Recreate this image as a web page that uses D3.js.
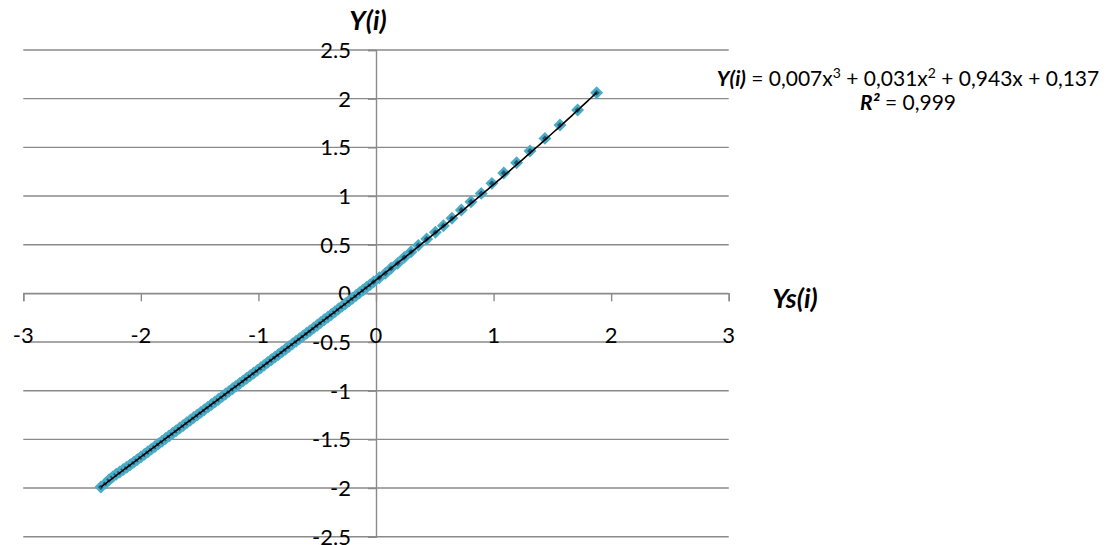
<!DOCTYPE html>
<html>
<head>
<meta charset="utf-8">
<script src="https://cdn.jsdelivr.net/npm/d3@7"></script>
<style>
  html, body { margin: 0; padding: 0; background: #fff; }
  svg { display: block; }
  text { font-family: Lato, "Open Sans", sans-serif; fill: #000; }
</style>
</head>
<body>
<svg id="chart" width="1109" height="545"></svg>
<script>
// Standard quantiles Ys(i) on the horizontal axis
const ysValues = [
  -2.34, -2.30, -2.27, -2.24, -2.21, -2.18, -2.15, -2.12, -2.09, -2.06, -2.03, -2.00,
  -1.97, -1.94, -1.91, -1.88, -1.85, -1.82, -1.79, -1.76, -1.73, -1.70,
  -1.67, -1.64, -1.61, -1.58, -1.55, -1.52, -1.49, -1.46, -1.43, -1.40,
  -1.37, -1.34, -1.31, -1.28, -1.25, -1.22, -1.19, -1.16, -1.13, -1.10,
  -1.07, -1.04, -1.01, -0.98, -0.95, -0.92, -0.89, -0.86, -0.83, -0.80,
  -0.77, -0.74, -0.71, -0.68, -0.65, -0.62, -0.59, -0.56, -0.53, -0.50,
  -0.47, -0.44, -0.41, -0.38, -0.35, -0.32, -0.29, -0.26, -0.23, -0.20,
  -0.17, -0.14, -0.11, -0.08, -0.05, -0.02,
  0.028, 0.079, 0.128, 0.184, 0.241, 0.298, 0.360, 0.431, 0.505, 0.573, 0.646,
  0.726, 0.808, 0.895, 0.986, 1.087, 1.196, 1.310, 1.437, 1.565, 1.715, 1.877
];

// Observed values Y(i) on the vertical axis
const yValues = [
  -1.990, -1.950, -1.915, -1.885, -1.858, -1.835, -1.810, -1.786, -1.760, -1.734, -1.708, -1.681,
  -1.654, -1.627, -1.600, -1.573, -1.546, -1.519, -1.492, -1.465, -1.438, -1.411,
  -1.384, -1.357, -1.330, -1.303, -1.276, -1.250, -1.223, -1.196, -1.169, -1.142,
  -1.115, -1.088, -1.061, -1.034, -1.007, -0.980, -0.953, -0.926, -0.899, -0.872,
  -0.845, -0.818, -0.791, -0.764, -0.737, -0.709, -0.682, -0.655, -0.628, -0.601,
  -0.574, -0.547, -0.519, -0.492, -0.465, -0.437, -0.410, -0.383, -0.355, -0.328,
  -0.300, -0.272, -0.245, -0.217, -0.189, -0.161, -0.134, -0.106, -0.078, -0.050,
  -0.022, 0.006, 0.034, 0.062, 0.090, 0.118,
  0.160, 0.205, 0.257, 0.308, 0.370, 0.427, 0.493, 0.558, 0.627, 0.695, 0.771,
  0.856, 0.941, 1.027, 1.130, 1.236, 1.342, 1.462, 1.592, 1.729, 1.883, 2.060
];

// Cubic trendline coefficients: a3, a2, a1, a0
const trendCoefficients = [0.007, 0.031, 0.943, 0.137];

const xTicks = [-3, -2, -1, 0, 1, 2, 3];
const yTicks = [-2.5, -2, -1.5, -1, -0.5, 0, 0.5, 1, 1.5, 2, 2.5];

const equationLabel = ["Y(i)", " = 0,007x", "3", " + 0,031x", "2", " + 0,943x + 0,137"];
const r2Label = ["R²", " = 0,999"];

const svg = d3.select("#chart");
const x = d3.scaleLinear().domain([-3, 3]).range([23.3, 728.7]);
const y = d3.scaleLinear().domain([-2.5, 2.5]).range([536.7, 50]);

const gridColor = "#8a8a8a";

// Horizontal gridlines
svg.append("g")
  .selectAll("line")
  .data(yTicks)
  .join("line")
  .attr("x1", x(-3)).attr("x2", x(3))
  .attr("y1", d => y(d)).attr("y2", d => y(d))
  .attr("stroke", gridColor).attr("stroke-width", 1.4);

// X axis crossing at y = 0, ticks pointing down
const xAxis = d3.axisBottom(x).tickValues(xTicks).tickSize(8).tickFormat("");
const gx = svg.append("g").attr("transform", `translate(0,${y(0)})`).call(xAxis);
gx.select(".domain").attr("stroke", gridColor).attr("stroke-width", 1.4);
gx.selectAll(".tick line").attr("stroke", gridColor).attr("stroke-width", 1.4);

// Y axis crossing at x = 0, ticks pointing left
const yAxis = d3.axisLeft(y).tickValues(yTicks).tickSize(8).tickFormat("");
const gy = svg.append("g").attr("transform", `translate(${x(0)},0)`).call(yAxis);
gy.select(".domain").attr("stroke", gridColor).attr("stroke-width", 1.4);
gy.selectAll(".tick line").attr("stroke", gridColor).attr("stroke-width", 1.4);

// X tick labels, placed in a row below the axis
svg.append("g")
  .selectAll("text")
  .data(xTicks)
  .join("text")
  .attr("x", d => x(d))
  .attr("y", 343)
  .attr("text-anchor", "middle")
  .attr("font-size", 22)
  .text(d => String(d));

// Y tick labels, right-aligned left of the vertical axis
svg.append("g")
  .selectAll("text")
  .data(yTicks)
  .join("text")
  .attr("x", 351)
  .attr("y", d => y(d))
  .attr("dy", "0.36em")
  .attr("text-anchor", "end")
  .attr("font-size", 22)
  .text(d => String(d));

// Data markers: rotated squares
const points = ysValues.map((v, i) => ({ xv: v, yv: yValues[i] }));
const diamond = d3.symbol().type(d3.symbolSquare).size(44);
svg.append("g")
  .selectAll("path")
  .data(points)
  .join("path")
  .attr("d", diamond)
  .attr("transform", d => `translate(${x(d.xv)},${y(d.yv)}) rotate(45)`)
  .attr("fill", "#1f5a78")
  .attr("stroke", "#4bacc6")
  .attr("stroke-width", 2.5);

// Polynomial trendline over the data range
const [a3, a2, a1, a0] = trendCoefficients;
const poly = t => a3 * t * t * t + a2 * t * t + a1 * t + a0;
const xMin = d3.min(ysValues), xMax = d3.max(ysValues);
const trend = d3.range(0, 201).map(i => {
  const t = xMin + (xMax - xMin) * i / 200;
  return [t, poly(t)];
});
svg.append("path")
  .datum(trend)
  .attr("d", d3.line().x(d => x(d[0])).y(d => y(d[1])))
  .attr("fill", "none")
  .attr("stroke", "#000")
  .attr("stroke-width", 1.6);

// Axis titles
svg.append("text")
  .attr("x", 368).attr("y", 30)
  .attr("text-anchor", "middle")
  .attr("font-size", 27).attr("font-weight", "bold").attr("font-style", "italic")
  .text("Y(i)");

svg.append("text")
  .attr("x", 795).attr("y", 308)
  .attr("text-anchor", "middle")
  .attr("font-size", 27).attr("font-weight", "bold").attr("font-style", "italic")
  .text("Ys(i)");

// Trendline equation and R² label
const eq = svg.append("text")
  .attr("x", 908).attr("y", 86)
  .attr("text-anchor", "middle")
  .attr("font-size", 21);
eq.append("tspan").attr("font-weight", "bold").attr("font-style", "italic").text(equationLabel[0]);
eq.append("tspan").text(equationLabel[1]);
eq.append("tspan").attr("font-size", 14).attr("dy", -8).text(equationLabel[2]);
eq.append("tspan").attr("dy", 8).text(equationLabel[3]);
eq.append("tspan").attr("font-size", 14).attr("dy", -8).text(equationLabel[4]);
eq.append("tspan").attr("dy", 8).text(equationLabel[5]);

const r2 = svg.append("text")
  .attr("x", 908).attr("y", 110)
  .attr("text-anchor", "middle")
  .attr("font-size", 21);
r2.append("tspan").attr("font-weight", "bold").attr("font-style", "italic").text(r2Label[0]);
r2.append("tspan").text(r2Label[1]);
</script>
</body>
</html>
